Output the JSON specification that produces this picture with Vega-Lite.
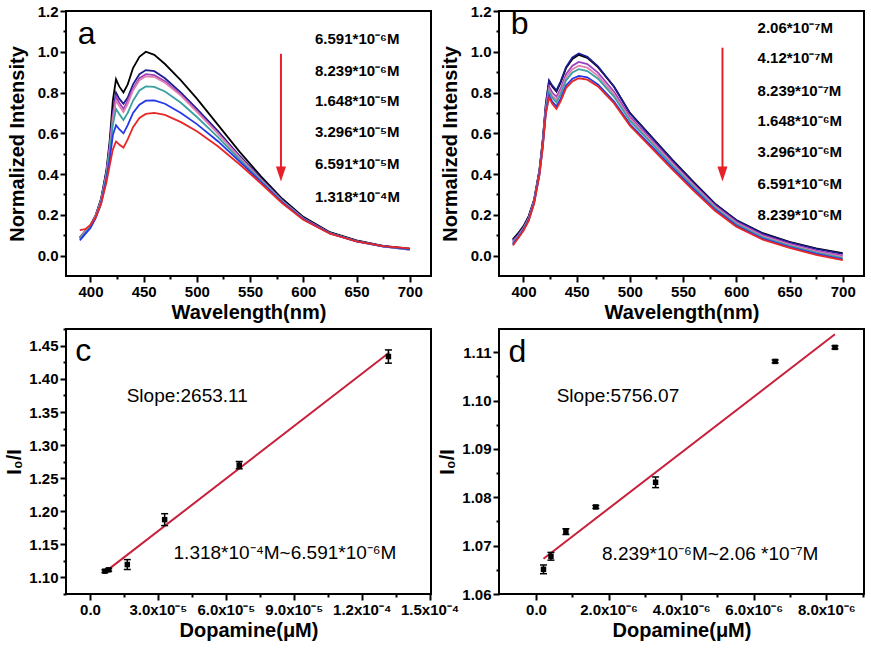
{
  "$schema": "https://vega.github.io/schema/vega-lite/v6.json",
  "background": "white",
  "padding": {"left": 3, "top": 3, "right": 2, "bottom": 2},
  "config": {
    "view": {"stroke": "black", "strokeWidth": 2},
    "axis": {"domain": false, "grid": false, "labelFont": "Liberation Sans", "labelFontWeight": "bold", "labelFontSize": 15, "labelColor": "black", "titleFont": "Liberation Sans", "titleFontWeight": "bold", "titleFontSize": 20, "titleColor": "black", "tickColor": "black", "tickWidth": 2, "labelOverlap": false, "labelFlush": false, "labelPadding": 2, "titlePadding": 3, "tickCount": 100},
    "text": {"font": "Liberation Sans", "color": "black"}
  },
  "datasets": {
    "specA": [
      {"s":"A0","w":390,"v":0.090},{"s":"A0","w":395,"v":0.120},{"s":"A0","w":400,"v":0.150},{"s":"A0","w":405,"v":0.200},{"s":"A0","w":410,"v":0.280},{"s":"A0","w":415,"v":0.420},{"s":"A0","w":418,"v":0.560},{"s":"A0","w":421,"v":0.760},{"s":"A0","w":424,"v":0.865},{"s":"A0","w":427,"v":0.830},{"s":"A0","w":431,"v":0.800},{"s":"A0","w":435,"v":0.840},{"s":"A0","w":440,"v":0.920},{"s":"A0","w":446,"v":0.975},{"s":"A0","w":452,"v":1.000},{"s":"A0","w":460,"v":0.985},{"s":"A0","w":470,"v":0.940},{"s":"A0","w":485,"v":0.860},{"s":"A0","w":500,"v":0.770},{"s":"A0","w":520,"v":0.640},{"s":"A0","w":540,"v":0.510},{"s":"A0","w":560,"v":0.390},{"s":"A0","w":580,"v":0.280},{"s":"A0","w":600,"v":0.190},{"s":"A0","w":625,"v":0.115},{"s":"A0","w":650,"v":0.075},{"s":"A0","w":675,"v":0.048},{"s":"A0","w":700,"v":0.034},
      {"s":"A1","w":390,"v":0.085},{"s":"A1","w":395,"v":0.115},{"s":"A1","w":400,"v":0.145},{"s":"A1","w":405,"v":0.195},{"s":"A1","w":410,"v":0.275},{"s":"A1","w":415,"v":0.410},{"s":"A1","w":418,"v":0.540},{"s":"A1","w":421,"v":0.700},{"s":"A1","w":424,"v":0.800},{"s":"A1","w":427,"v":0.770},{"s":"A1","w":431,"v":0.745},{"s":"A1","w":435,"v":0.775},{"s":"A1","w":440,"v":0.840},{"s":"A1","w":446,"v":0.890},{"s":"A1","w":452,"v":0.910},{"s":"A1","w":460,"v":0.905},{"s":"A1","w":470,"v":0.870},{"s":"A1","w":485,"v":0.800},{"s":"A1","w":500,"v":0.720},{"s":"A1","w":520,"v":0.610},{"s":"A1","w":540,"v":0.490},{"s":"A1","w":560,"v":0.380},{"s":"A1","w":580,"v":0.275},{"s":"A1","w":600,"v":0.185},{"s":"A1","w":625,"v":0.112},{"s":"A1","w":650,"v":0.072},{"s":"A1","w":675,"v":0.046},{"s":"A1","w":700,"v":0.032},
      {"s":"A2","w":390,"v":0.085},{"s":"A2","w":395,"v":0.115},{"s":"A2","w":400,"v":0.145},{"s":"A2","w":405,"v":0.195},{"s":"A2","w":410,"v":0.270},{"s":"A2","w":415,"v":0.400},{"s":"A2","w":418,"v":0.530},{"s":"A2","w":421,"v":0.690},{"s":"A2","w":424,"v":0.780},{"s":"A2","w":427,"v":0.750},{"s":"A2","w":431,"v":0.720},{"s":"A2","w":435,"v":0.760},{"s":"A2","w":440,"v":0.820},{"s":"A2","w":446,"v":0.870},{"s":"A2","w":452,"v":0.890},{"s":"A2","w":460,"v":0.885},{"s":"A2","w":470,"v":0.855},{"s":"A2","w":485,"v":0.790},{"s":"A2","w":500,"v":0.710},{"s":"A2","w":520,"v":0.600},{"s":"A2","w":540,"v":0.485},{"s":"A2","w":560,"v":0.375},{"s":"A2","w":580,"v":0.270},{"s":"A2","w":600,"v":0.183},{"s":"A2","w":625,"v":0.110},{"s":"A2","w":650,"v":0.070},{"s":"A2","w":675,"v":0.045},{"s":"A2","w":700,"v":0.030},
      {"s":"A3","w":390,"v":0.090},{"s":"A3","w":395,"v":0.118},{"s":"A3","w":400,"v":0.148},{"s":"A3","w":405,"v":0.195},{"s":"A3","w":410,"v":0.270},{"s":"A3","w":415,"v":0.400},{"s":"A3","w":418,"v":0.520},{"s":"A3","w":421,"v":0.670},{"s":"A3","w":424,"v":0.760},{"s":"A3","w":427,"v":0.735},{"s":"A3","w":431,"v":0.705},{"s":"A3","w":435,"v":0.745},{"s":"A3","w":440,"v":0.810},{"s":"A3","w":446,"v":0.860},{"s":"A3","w":452,"v":0.880},{"s":"A3","w":460,"v":0.876},{"s":"A3","w":470,"v":0.848},{"s":"A3","w":485,"v":0.785},{"s":"A3","w":500,"v":0.705},{"s":"A3","w":520,"v":0.597},{"s":"A3","w":540,"v":0.482},{"s":"A3","w":560,"v":0.373},{"s":"A3","w":580,"v":0.268},{"s":"A3","w":600,"v":0.182},{"s":"A3","w":625,"v":0.110},{"s":"A3","w":650,"v":0.070},{"s":"A3","w":675,"v":0.044},{"s":"A3","w":700,"v":0.028},
      {"s":"A4","w":390,"v":0.085},{"s":"A4","w":395,"v":0.112},{"s":"A4","w":400,"v":0.142},{"s":"A4","w":405,"v":0.190},{"s":"A4","w":410,"v":0.265},{"s":"A4","w":415,"v":0.390},{"s":"A4","w":418,"v":0.500},{"s":"A4","w":421,"v":0.640},{"s":"A4","w":424,"v":0.720},{"s":"A4","w":427,"v":0.695},{"s":"A4","w":431,"v":0.665},{"s":"A4","w":435,"v":0.700},{"s":"A4","w":440,"v":0.760},{"s":"A4","w":446,"v":0.810},{"s":"A4","w":452,"v":0.830},{"s":"A4","w":460,"v":0.828},{"s":"A4","w":470,"v":0.805},{"s":"A4","w":485,"v":0.750},{"s":"A4","w":500,"v":0.680},{"s":"A4","w":520,"v":0.580},{"s":"A4","w":540,"v":0.472},{"s":"A4","w":560,"v":0.368},{"s":"A4","w":580,"v":0.266},{"s":"A4","w":600,"v":0.181},{"s":"A4","w":625,"v":0.110},{"s":"A4","w":650,"v":0.071},{"s":"A4","w":675,"v":0.045},{"s":"A4","w":700,"v":0.030},
      {"s":"A5","w":390,"v":0.075},{"s":"A5","w":395,"v":0.105},{"s":"A5","w":400,"v":0.135},{"s":"A5","w":405,"v":0.185},{"s":"A5","w":410,"v":0.255},{"s":"A5","w":415,"v":0.375},{"s":"A5","w":418,"v":0.470},{"s":"A5","w":421,"v":0.590},{"s":"A5","w":424,"v":0.640},{"s":"A5","w":427,"v":0.620},{"s":"A5","w":431,"v":0.600},{"s":"A5","w":435,"v":0.640},{"s":"A5","w":440,"v":0.700},{"s":"A5","w":446,"v":0.740},{"s":"A5","w":452,"v":0.760},{"s":"A5","w":460,"v":0.762},{"s":"A5","w":470,"v":0.745},{"s":"A5","w":485,"v":0.700},{"s":"A5","w":500,"v":0.645},{"s":"A5","w":520,"v":0.560},{"s":"A5","w":540,"v":0.462},{"s":"A5","w":560,"v":0.362},{"s":"A5","w":580,"v":0.262},{"s":"A5","w":600,"v":0.179},{"s":"A5","w":625,"v":0.109},{"s":"A5","w":650,"v":0.070},{"s":"A5","w":675,"v":0.046},{"s":"A5","w":700,"v":0.032},
      {"s":"A6","w":390,"v":0.125},{"s":"A6","w":395,"v":0.130},{"s":"A6","w":400,"v":0.150},{"s":"A6","w":405,"v":0.190},{"s":"A6","w":410,"v":0.255},{"s":"A6","w":415,"v":0.360},{"s":"A6","w":418,"v":0.440},{"s":"A6","w":421,"v":0.520},{"s":"A6","w":424,"v":0.560},{"s":"A6","w":427,"v":0.545},{"s":"A6","w":431,"v":0.530},{"s":"A6","w":435,"v":0.570},{"s":"A6","w":440,"v":0.630},{"s":"A6","w":446,"v":0.675},{"s":"A6","w":452,"v":0.695},{"s":"A6","w":460,"v":0.700},{"s":"A6","w":470,"v":0.690},{"s":"A6","w":485,"v":0.655},{"s":"A6","w":500,"v":0.610},{"s":"A6","w":520,"v":0.535},{"s":"A6","w":540,"v":0.448},{"s":"A6","w":560,"v":0.355},{"s":"A6","w":580,"v":0.258},{"s":"A6","w":600,"v":0.176},{"s":"A6","w":625,"v":0.108},{"s":"A6","w":650,"v":0.070},{"s":"A6","w":675,"v":0.047},{"s":"A6","w":700,"v":0.036}
    ],
    "specB": [
      {"s":"B0","w":390,"v":0.080},{"s":"B0","w":395,"v":0.110},{"s":"B0","w":400,"v":0.145},{"s":"B0","w":405,"v":0.195},{"s":"B0","w":410,"v":0.275},{"s":"B0","w":415,"v":0.420},{"s":"B0","w":418,"v":0.560},{"s":"B0","w":421,"v":0.740},{"s":"B0","w":424,"v":0.855},{"s":"B0","w":427,"v":0.830},{"s":"B0","w":431,"v":0.805},{"s":"B0","w":435,"v":0.850},{"s":"B0","w":440,"v":0.920},{"s":"B0","w":446,"v":0.965},{"s":"B0","w":452,"v":0.985},{"s":"B0","w":460,"v":0.970},{"s":"B0","w":470,"v":0.925},{"s":"B0","w":485,"v":0.830},{"s":"B0","w":500,"v":0.700},{"s":"B0","w":520,"v":0.585},{"s":"B0","w":540,"v":0.470},{"s":"B0","w":560,"v":0.360},{"s":"B0","w":580,"v":0.255},{"s":"B0","w":600,"v":0.175},{"s":"B0","w":625,"v":0.110},{"s":"B0","w":650,"v":0.068},{"s":"B0","w":675,"v":0.035},{"s":"B0","w":700,"v":0.012},
      {"s":"B1","w":390,"v":0.075},{"s":"B1","w":395,"v":0.105},{"s":"B1","w":400,"v":0.140},{"s":"B1","w":405,"v":0.190},{"s":"B1","w":410,"v":0.272},{"s":"B1","w":415,"v":0.418},{"s":"B1","w":418,"v":0.560},{"s":"B1","w":421,"v":0.745},{"s":"B1","w":424,"v":0.860},{"s":"B1","w":427,"v":0.835},{"s":"B1","w":431,"v":0.810},{"s":"B1","w":435,"v":0.855},{"s":"B1","w":440,"v":0.925},{"s":"B1","w":446,"v":0.972},{"s":"B1","w":452,"v":0.992},{"s":"B1","w":460,"v":0.975},{"s":"B1","w":470,"v":0.928},{"s":"B1","w":485,"v":0.830},{"s":"B1","w":500,"v":0.698},{"s":"B1","w":520,"v":0.582},{"s":"B1","w":540,"v":0.466},{"s":"B1","w":560,"v":0.356},{"s":"B1","w":580,"v":0.252},{"s":"B1","w":600,"v":0.172},{"s":"B1","w":625,"v":0.107},{"s":"B1","w":650,"v":0.065},{"s":"B1","w":675,"v":0.033},{"s":"B1","w":700,"v":0.008},
      {"s":"B2","w":390,"v":0.070},{"s":"B2","w":395,"v":0.100},{"s":"B2","w":400,"v":0.135},{"s":"B2","w":405,"v":0.185},{"s":"B2","w":410,"v":0.268},{"s":"B2","w":415,"v":0.410},{"s":"B2","w":418,"v":0.545},{"s":"B2","w":421,"v":0.725},{"s":"B2","w":424,"v":0.830},{"s":"B2","w":427,"v":0.800},{"s":"B2","w":431,"v":0.780},{"s":"B2","w":435,"v":0.820},{"s":"B2","w":440,"v":0.890},{"s":"B2","w":446,"v":0.932},{"s":"B2","w":452,"v":0.950},{"s":"B2","w":460,"v":0.940},{"s":"B2","w":470,"v":0.898},{"s":"B2","w":485,"v":0.805},{"s":"B2","w":500,"v":0.682},{"s":"B2","w":520,"v":0.570},{"s":"B2","w":540,"v":0.456},{"s":"B2","w":560,"v":0.348},{"s":"B2","w":580,"v":0.245},{"s":"B2","w":600,"v":0.166},{"s":"B2","w":625,"v":0.100},{"s":"B2","w":650,"v":0.058},{"s":"B2","w":675,"v":0.025},{"s":"B2","w":700,"v":0.000},
      {"s":"B3","w":390,"v":0.065},{"s":"B3","w":395,"v":0.095},{"s":"B3","w":400,"v":0.132},{"s":"B3","w":405,"v":0.182},{"s":"B3","w":410,"v":0.265},{"s":"B3","w":415,"v":0.405},{"s":"B3","w":418,"v":0.540},{"s":"B3","w":421,"v":0.715},{"s":"B3","w":424,"v":0.815},{"s":"B3","w":427,"v":0.785},{"s":"B3","w":431,"v":0.765},{"s":"B3","w":435,"v":0.805},{"s":"B3","w":440,"v":0.875},{"s":"B3","w":446,"v":0.915},{"s":"B3","w":452,"v":0.932},{"s":"B3","w":460,"v":0.922},{"s":"B3","w":470,"v":0.882},{"s":"B3","w":485,"v":0.792},{"s":"B3","w":500,"v":0.672},{"s":"B3","w":520,"v":0.562},{"s":"B3","w":540,"v":0.450},{"s":"B3","w":560,"v":0.343},{"s":"B3","w":580,"v":0.240},{"s":"B3","w":600,"v":0.160},{"s":"B3","w":625,"v":0.095},{"s":"B3","w":650,"v":0.053},{"s":"B3","w":675,"v":0.020},{"s":"B3","w":700,"v":-0.006},
      {"s":"B4","w":390,"v":0.060},{"s":"B4","w":395,"v":0.092},{"s":"B4","w":400,"v":0.130},{"s":"B4","w":405,"v":0.180},{"s":"B4","w":410,"v":0.262},{"s":"B4","w":415,"v":0.402},{"s":"B4","w":418,"v":0.535},{"s":"B4","w":421,"v":0.710},{"s":"B4","w":424,"v":0.805},{"s":"B4","w":427,"v":0.775},{"s":"B4","w":431,"v":0.752},{"s":"B4","w":435,"v":0.792},{"s":"B4","w":440,"v":0.860},{"s":"B4","w":446,"v":0.898},{"s":"B4","w":452,"v":0.915},{"s":"B4","w":460,"v":0.905},{"s":"B4","w":470,"v":0.868},{"s":"B4","w":485,"v":0.780},{"s":"B4","w":500,"v":0.662},{"s":"B4","w":520,"v":0.553},{"s":"B4","w":540,"v":0.442},{"s":"B4","w":560,"v":0.336},{"s":"B4","w":580,"v":0.234},{"s":"B4","w":600,"v":0.155},{"s":"B4","w":625,"v":0.090},{"s":"B4","w":650,"v":0.048},{"s":"B4","w":675,"v":0.015},{"s":"B4","w":700,"v":-0.012},
      {"s":"B5","w":390,"v":0.055},{"s":"B5","w":395,"v":0.088},{"s":"B5","w":400,"v":0.126},{"s":"B5","w":405,"v":0.176},{"s":"B5","w":410,"v":0.258},{"s":"B5","w":415,"v":0.398},{"s":"B5","w":418,"v":0.530},{"s":"B5","w":421,"v":0.700},{"s":"B5","w":424,"v":0.785},{"s":"B5","w":427,"v":0.755},{"s":"B5","w":431,"v":0.732},{"s":"B5","w":435,"v":0.770},{"s":"B5","w":440,"v":0.835},{"s":"B5","w":446,"v":0.868},{"s":"B5","w":452,"v":0.882},{"s":"B5","w":460,"v":0.875},{"s":"B5","w":470,"v":0.840},{"s":"B5","w":485,"v":0.757},{"s":"B5","w":500,"v":0.645},{"s":"B5","w":520,"v":0.538},{"s":"B5","w":540,"v":0.430},{"s":"B5","w":560,"v":0.326},{"s":"B5","w":580,"v":0.226},{"s":"B5","w":600,"v":0.148},{"s":"B5","w":625,"v":0.083},{"s":"B5","w":650,"v":0.042},{"s":"B5","w":675,"v":0.008},{"s":"B5","w":700,"v":-0.018},
      {"s":"B6","w":390,"v":0.050},{"s":"B6","w":395,"v":0.085},{"s":"B6","w":400,"v":0.122},{"s":"B6","w":405,"v":0.172},{"s":"B6","w":410,"v":0.255},{"s":"B6","w":415,"v":0.395},{"s":"B6","w":418,"v":0.525},{"s":"B6","w":421,"v":0.695},{"s":"B6","w":424,"v":0.775},{"s":"B6","w":427,"v":0.745},{"s":"B6","w":431,"v":0.720},{"s":"B6","w":435,"v":0.758},{"s":"B6","w":440,"v":0.822},{"s":"B6","w":446,"v":0.855},{"s":"B6","w":452,"v":0.870},{"s":"B6","w":460,"v":0.863},{"s":"B6","w":470,"v":0.830},{"s":"B6","w":485,"v":0.748},{"s":"B6","w":500,"v":0.638},{"s":"B6","w":520,"v":0.530},{"s":"B6","w":540,"v":0.422},{"s":"B6","w":560,"v":0.318},{"s":"B6","w":580,"v":0.220},{"s":"B6","w":600,"v":0.142},{"s":"B6","w":625,"v":0.078},{"s":"B6","w":650,"v":0.038},{"s":"B6","w":675,"v":0.004},{"s":"B6","w":700,"v":-0.022}
    ],
    "legA": [
      {"w":611,"v":1.063,"t":"6.591*10⁻⁶M"},{"w":611,"v":0.906,"t":"8.239*10⁻⁶M"},{"w":611,"v":0.759,"t":"1.648*10⁻⁵M"},{"w":611,"v":0.607,"t":"3.296*10⁻⁵M"},{"w":611,"v":0.450,"t":"6.591*10⁻⁵M"},{"w":611,"v":0.289,"t":"1.318*10⁻⁴M"}
    ],
    "legB": [
      {"w":620,"v":1.118,"t":"2.06*10⁻⁷M"},{"w":620,"v":0.967,"t":"4.12*10⁻⁷M"},{"w":620,"v":0.810,"t":"8.239*10⁻⁷M"},{"w":620,"v":0.658,"t":"1.648*10⁻⁶M"},{"w":620,"v":0.508,"t":"3.296*10⁻⁶M"},{"w":620,"v":0.353,"t":"6.591*10⁻⁶M"},{"w":620,"v":0.198,"t":"8.239*10⁻⁶M"}
    ],
    "arrowA": [{"w":579,"v1":0.99,"v2":0.42,"h":0.40}],
    "arrowB": [{"w":587,"v1":1.02,"v2":0.42,"h":0.40}],
    "letA": [{"w":388,"v":1.038,"t":"a"}],
    "letB": [{"w":388,"v":1.089,"t":"b"}],
    "ptsC": [
      {"x":6.591e-6,"y":1.109,"lo":1.107,"hi":1.111},
      {"x":8.239e-6,"y":1.111,"lo":1.109,"hi":1.113},
      {"x":1.648e-5,"y":1.119,"lo":1.1115,"hi":1.1265},
      {"x":3.296e-5,"y":1.187,"lo":1.178,"hi":1.196},
      {"x":6.591e-5,"y":1.2695,"lo":1.264,"hi":1.275},
      {"x":1.318e-4,"y":1.434,"lo":1.424,"hi":1.444}
    ],
    "fitC": [{"x":6.0e-6,"y":1.106},{"x":1.322e-4,"y":1.440}],
    "txtC": [{"x":1.62e-5,"y":1.3648,"t":"Slope:2653.11"},{"x":3.69e-5,"y":1.128,"t":"1.318*10⁻⁴M~6.591*10⁻⁶M"}],
    "letC": [{"x":-6.5e-6,"y":1.4275,"t":"c"}],
    "ptsD": [
      {"x":2.06e-7,"y":1.0651,"lo":1.0642,"hi":1.0660},
      {"x":4.12e-7,"y":1.0678,"lo":1.0670,"hi":1.0686},
      {"x":8.239e-7,"y":1.0729,"lo":1.0723,"hi":1.0735},
      {"x":1.648e-6,"y":1.0780,"lo":1.0777,"hi":1.0783},
      {"x":3.296e-6,"y":1.0831,"lo":1.0820,"hi":1.0842},
      {"x":6.591e-6,"y":1.1081,"lo":1.1078,"hi":1.1084},
      {"x":8.239e-6,"y":1.1110,"lo":1.1107,"hi":1.1113}
    ],
    "fitD": [{"x":2.06e-7,"y":1.0673},{"x":8.239e-6,"y":1.1137}],
    "txtD": [{"x":5.7e-7,"y":1.0998,"t":"Slope:5756.07"},{"x":1.82e-6,"y":1.0671,"t":"8.239*10⁻⁶M~2.06 *10⁻⁷M"}],
    "letD": [{"x":-7.6e-7,"y":1.108,"t":"d"}]
  },
  "columns": 2,
  "spacing": {"row": 53, "column": 68},
  "bounds": "flush",
  "concat": [
        {
          "width": 365, "height": 265,
          "layer": [
            {
              "data": {"name": "specA"},
              "mark": {"type": "line", "strokeWidth": 1.8},
              "encoding": {
                "x": {"field": "w", "type": "quantitative", "scale": {"domain": [377, 720], "nice": false, "zero": false},
                      "axis": {"title": "Wavelength(nm)", "tickCount": 100, "values": [400,425,450,475,500,525,550,575,600,625,650,675,700],
                               "labelExpr": "datum.value % 50 == 0 ? datum.label : ''",
                               "tickSize": {"condition": {"test": "datum.value % 50 == 0", "value": 6}, "value": 3}}},
                "y": {"field": "v", "type": "quantitative", "scale": {"domain": [-0.1, 1.2], "nice": false, "zero": false},
                      "axis": {"title": "Normalized Intensity", "titlePadding": 10, "tickCount": 100, "values": [0,0.1,0.2,0.3,0.4,0.5,0.6,0.7,0.8,0.9,1.0,1.1,1.2],
                               "labelExpr": "round(datum.value*10) % 2 == 0 ? format(datum.value, '.1f') : ''",
                               "tickSize": {"condition": {"test": "round(datum.value*10) % 2 == 0", "value": 6}, "value": 3}}},
                "color": {"field": "s", "type": "nominal", "legend": null,
                          "scale": {"domain": ["A0","A1","A2","A3","A4","A5","A6"], "range": ["#000000","#1c1c8c","#a040c0","#e080b0","#3aa0a0","#2438e8","#e82828"]}}
              }
            },
            {
              "data": {"name": "legA"},
              "mark": {"type": "text", "align": "left", "baseline": "middle", "fontSize": 15, "fontWeight": "bold"},
              "encoding": {"x": {"field": "w", "type": "quantitative"}, "y": {"field": "v", "type": "quantitative"}, "text": {"field": "t"}}
            },
            {
              "data": {"name": "arrowA"},
              "mark": {"type": "rule", "color": "#e8202a", "strokeWidth": 2},
              "encoding": {"x": {"field": "w", "type": "quantitative"}, "y": {"field": "v1", "type": "quantitative", "title": "Normalized Intensity"}, "y2": {"field": "v2"}}
            },
            {
              "data": {"name": "arrowA"},
              "mark": {"type": "point", "shape": "M-0.67,-1L0.67,-1L0,1Z", "filled": true, "color": "#e8202a", "size": 225, "opacity": 1},
              "encoding": {"x": {"field": "w", "type": "quantitative"}, "y": {"field": "h", "type": "quantitative", "title": "Normalized Intensity"}}
            },
            {
              "data": {"name": "letA"},
              "mark": {"type": "text", "align": "left", "baseline": "alphabetic", "fontSize": 32},
              "encoding": {"x": {"field": "w", "type": "quantitative"}, "y": {"field": "v", "type": "quantitative"}, "text": {"field": "t"}}
            }
          ]
        },
        {
          "width": 365, "height": 265,
          "layer": [
            {
              "data": {"name": "specB"},
              "mark": {"type": "line", "strokeWidth": 1.8},
              "encoding": {
                "x": {"field": "w", "type": "quantitative", "scale": {"domain": [377, 720], "nice": false, "zero": false},
                      "axis": {"title": "Wavelength(nm)", "tickCount": 100, "values": [400,425,450,475,500,525,550,575,600,625,650,675,700],
                               "labelExpr": "datum.value % 50 == 0 ? datum.label : ''",
                               "tickSize": {"condition": {"test": "datum.value % 50 == 0", "value": 6}, "value": 3}}},
                "y": {"field": "v", "type": "quantitative", "scale": {"domain": [-0.1, 1.2], "nice": false, "zero": false},
                      "axis": {"title": "Normalized Intensity", "titlePadding": 10, "tickCount": 100, "values": [0,0.1,0.2,0.3,0.4,0.5,0.6,0.7,0.8,0.9,1.0,1.1,1.2],
                               "labelExpr": "round(datum.value*10) % 2 == 0 ? format(datum.value, '.1f') : ''",
                               "tickSize": {"condition": {"test": "round(datum.value*10) % 2 == 0", "value": 6}, "value": 3}}},
                "color": {"field": "s", "type": "nominal", "legend": null,
                          "scale": {"domain": ["B0","B1","B2","B3","B4","B5","B6"], "range": ["#000000","#cc2020","#1c1c8c","#e080b0","#a070d0","#3aa0a0","#4050e8"]}}
              }
            },
            {
              "data": {"name": "legB"},
              "mark": {"type": "text", "align": "left", "baseline": "middle", "fontSize": 15, "fontWeight": "bold"},
              "encoding": {"x": {"field": "w", "type": "quantitative"}, "y": {"field": "v", "type": "quantitative"}, "text": {"field": "t"}}
            },
            {
              "data": {"name": "arrowB"},
              "mark": {"type": "rule", "color": "#e8202a", "strokeWidth": 2},
              "encoding": {"x": {"field": "w", "type": "quantitative"}, "y": {"field": "v1", "type": "quantitative", "title": "Normalized Intensity"}, "y2": {"field": "v2"}}
            },
            {
              "data": {"name": "arrowB"},
              "mark": {"type": "point", "shape": "M-0.67,-1L0.67,-1L0,1Z", "filled": true, "color": "#e8202a", "size": 225, "opacity": 1},
              "encoding": {"x": {"field": "w", "type": "quantitative"}, "y": {"field": "h", "type": "quantitative", "title": "Normalized Intensity"}}
            },
            {
              "data": {"name": "letB"},
              "mark": {"type": "text", "align": "left", "baseline": "alphabetic", "fontSize": 32},
              "encoding": {"x": {"field": "w", "type": "quantitative"}, "y": {"field": "v", "type": "quantitative"}, "text": {"field": "t"}}
            }
          ]
        },
        {
          "width": 365, "height": 265,
          "layer": [
            {
              "data": {"name": "fitC"},
              "mark": {"type": "line", "color": "#c8203c", "strokeWidth": 2},
              "encoding": {
                "x": {"field": "x", "type": "quantitative", "scale": {"domain": [-1.06e-5, 1.506e-4], "nice": false, "zero": false},
                      "axis": {"title": "Dopamine(μM)", "tickCount": 100, "values": [0,1.5e-5,3e-5,4.5e-5,6e-5,7.5e-5,9e-5,1.05e-4,1.2e-4,1.35e-4,1.5e-4],
                               "labelExpr": "round(datum.value/1.5e-5) % 2 == 0 ? ['0.0','3.0x10⁻⁵','6.0x10⁻⁵','9.0x10⁻⁵','1.2x10⁻⁴','1.5x10⁻⁴'][round(datum.value/3e-5)] : ''",
                               "tickSize": {"condition": {"test": "round(datum.value/1.5e-5) % 2 == 0", "value": 6}, "value": 3}}},
                "y": {"field": "y", "type": "quantitative", "scale": {"domain": [1.0744, 1.4757], "nice": false, "zero": false},
                      "axis": {"title": "I₀/I", "titlePadding": 4, "tickCount": 100, "values": [1.075,1.1,1.125,1.15,1.175,1.2,1.225,1.25,1.275,1.3,1.325,1.35,1.375,1.4,1.425,1.45,1.475],
                               "labelExpr": "round(datum.value*40) % 2 == 0 ? format(datum.value, '.2f') : ''",
                               "tickSize": {"condition": {"test": "round(datum.value*40) % 2 == 0", "value": 6}, "value": 3}}}
              }
            },
            {
              "data": {"name": "ptsC"},
              "mark": {"type": "rule", "color": "black", "strokeWidth": 1.5},
              "encoding": {"x": {"field": "x", "type": "quantitative"}, "y": {"field": "lo", "type": "quantitative", "title": "I₀/I"}, "y2": {"field": "hi"}}
            },
            {
              "data": {"name": "ptsC"},
              "mark": {"type": "tick", "orient": "horizontal", "color": "black", "size": 7, "thickness": 1.5, "opacity": 1},
              "encoding": {"x": {"field": "x", "type": "quantitative"}, "y": {"field": "lo", "type": "quantitative", "title": "I₀/I"}}
            },
            {
              "data": {"name": "ptsC"},
              "mark": {"type": "tick", "orient": "horizontal", "color": "black", "size": 7, "thickness": 1.5, "opacity": 1},
              "encoding": {"x": {"field": "x", "type": "quantitative"}, "y": {"field": "hi", "type": "quantitative", "title": "I₀/I"}}
            },
            {
              "data": {"name": "ptsC"},
              "mark": {"type": "point", "shape": "square", "filled": true, "color": "black", "size": 30, "opacity": 1},
              "encoding": {"x": {"field": "x", "type": "quantitative"}, "y": {"field": "y", "type": "quantitative"}}
            },
            {
              "data": {"name": "txtC"},
              "mark": {"type": "text", "align": "left", "baseline": "alphabetic", "fontSize": 19},
              "encoding": {"x": {"field": "x", "type": "quantitative"}, "y": {"field": "y", "type": "quantitative"}, "text": {"field": "t"}}
            },
            {
              "data": {"name": "letC"},
              "mark": {"type": "text", "align": "left", "baseline": "alphabetic", "fontSize": 32},
              "encoding": {"x": {"field": "x", "type": "quantitative"}, "y": {"field": "y", "type": "quantitative"}, "text": {"field": "t"}}
            }
          ]
        },
        {
          "width": 365, "height": 265,
          "layer": [
            {
              "data": {"name": "fitD"},
              "mark": {"type": "line", "color": "#c8203c", "strokeWidth": 2},
              "encoding": {
                "x": {"field": "x", "type": "quantitative", "scale": {"domain": [-1.02e-6, 9.04e-6], "nice": false, "zero": false},
                      "axis": {"title": "Dopamine(μM)", "tickCount": 100, "values": [0,1e-6,2e-6,3e-6,4e-6,5e-6,6e-6,7e-6,8e-6,9e-6],
                               "labelExpr": "round(datum.value/1e-6) % 2 == 0 ? ['0.0','2.0x10⁻⁶','4.0x10⁻⁶','6.0x10⁻⁶','8.0x10⁻⁶'][round(datum.value/2e-6)] : ''",
                               "tickSize": {"condition": {"test": "round(datum.value/1e-6) % 2 == 0", "value": 6}, "value": 3}}},
                "y": {"field": "y", "type": "quantitative", "scale": {"domain": [1.06, 1.1148], "nice": false, "zero": false},
                      "axis": {"title": "I₀/I", "titlePadding": 4, "tickCount": 100, "values": [1.06,1.065,1.07,1.075,1.08,1.085,1.09,1.095,1.1,1.105,1.11],
                               "labelExpr": "round(datum.value*200) % 2 == 0 ? format(datum.value, '.2f') : ''",
                               "tickSize": {"condition": {"test": "round(datum.value*200) % 2 == 0", "value": 6}, "value": 3}}}
              }
            },
            {
              "data": {"name": "ptsD"},
              "mark": {"type": "rule", "color": "black", "strokeWidth": 1.5},
              "encoding": {"x": {"field": "x", "type": "quantitative"}, "y": {"field": "lo", "type": "quantitative", "title": "I₀/I"}, "y2": {"field": "hi"}}
            },
            {
              "data": {"name": "ptsD"},
              "mark": {"type": "tick", "orient": "horizontal", "color": "black", "size": 7, "thickness": 1.5, "opacity": 1},
              "encoding": {"x": {"field": "x", "type": "quantitative"}, "y": {"field": "lo", "type": "quantitative", "title": "I₀/I"}}
            },
            {
              "data": {"name": "ptsD"},
              "mark": {"type": "tick", "orient": "horizontal", "color": "black", "size": 7, "thickness": 1.5, "opacity": 1},
              "encoding": {"x": {"field": "x", "type": "quantitative"}, "y": {"field": "hi", "type": "quantitative", "title": "I₀/I"}}
            },
            {
              "data": {"name": "ptsD"},
              "mark": {"type": "point", "shape": "square", "filled": true, "color": "black", "size": 30, "opacity": 1},
              "encoding": {"x": {"field": "x", "type": "quantitative"}, "y": {"field": "y", "type": "quantitative"}}
            },
            {
              "data": {"name": "txtD"},
              "mark": {"type": "text", "align": "left", "baseline": "alphabetic", "fontSize": 19},
              "encoding": {"x": {"field": "x", "type": "quantitative"}, "y": {"field": "y", "type": "quantitative"}, "text": {"field": "t"}}
            },
            {
              "data": {"name": "letD"},
              "mark": {"type": "text", "align": "left", "baseline": "alphabetic", "fontSize": 32},
              "encoding": {"x": {"field": "x", "type": "quantitative"}, "y": {"field": "y", "type": "quantitative"}, "text": {"field": "t"}}
            }
          ]
        }
  ]
}
